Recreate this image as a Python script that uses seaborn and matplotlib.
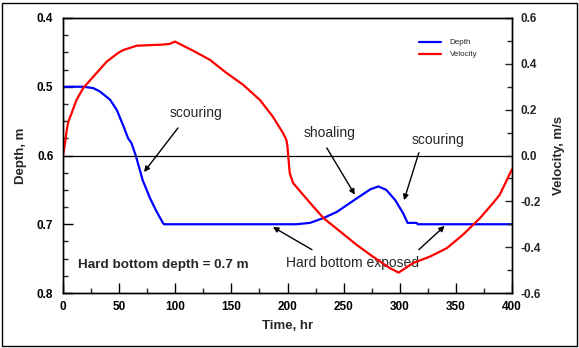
import matplotlib
matplotlib.use("Agg")
import matplotlib.pyplot as plt
from matplotlib.ticker import MultipleLocator
from matplotlib.patches import Rectangle
import seaborn as sns
import pandas as pd

# ---------------- data ----------------
depth_time = [0, 18, 27, 33, 42, 48, 54, 58, 61, 65, 71, 77.5, 83.5, 89, 90, 170, 208, 220,
              232, 244, 262, 274, 281, 288, 296, 303, 307, 315, 316, 400]
depth_m = [0.5, 0.5, 0.502, 0.507, 0.519, 0.534, 0.558, 0.575, 0.582, 0.601, 0.636, 0.662,
           0.682, 0.698, 0.7, 0.7, 0.7, 0.698, 0.691, 0.682, 0.662, 0.649, 0.645, 0.65, 0.665,
           0.684, 0.698, 0.698, 0.7, 0.7]

vel_time = [0, 1.8, 3.3, 4.7, 7.7, 12, 18, 27, 39, 49, 53.6, 65.6, 89, 95, 99.8, 116, 131, 146,
            160.6, 175.5, 187, 196, 199, 200, 200.7, 202, 205, 214, 223, 232, 247, 261.6, 276,
            291, 299, 312, 327, 342, 356, 371.5, 383, 389, 400]
vel_ms = [0.0, 0.054, 0.11, 0.147, 0.185, 0.242, 0.294, 0.344, 0.41, 0.447, 0.46, 0.479, 0.484,
          0.487, 0.497, 0.457, 0.417, 0.359, 0.308, 0.242, 0.169, 0.098, 0.068, 0.038, -0.005,
          -0.077, -0.12, -0.172, -0.223, -0.273, -0.332, -0.39, -0.441, -0.491, -0.511, -0.469,
          -0.441, -0.404, -0.347, -0.273, -0.208, -0.172, -0.06]

series_names = ["Depth", "Velocity"]
x_label = "Time, hr"
y1_label = "Depth, m"
y2_label = "Velocity, m/s"

depth_df = pd.DataFrame({"t": depth_time, "v": depth_m})
vel_df = pd.DataFrame({"t": vel_time, "v": vel_ms})

# ---------------- style ----------------
sns.set_style("ticks")
plt.rcParams["font.family"] = ["Liberation Sans", "DejaVu Sans"]

W, H = 579, 348
fig = plt.figure(figsize=(W / 100, H / 100), dpi=100)
fig.subplots_adjust(left=63 / W, right=512 / W, top=1 - 18 / H, bottom=1 - 293 / H)
ax1 = fig.add_subplot(111)
ax2 = ax1.twinx()

# frame around the figure
fig.patches.append(Rectangle((1.5 / W, 2.5 / H), 575 / W, 343 / H, transform=fig.transFigure,
                             fill=False, edgecolor="black", lw=1.0))

sns.lineplot(data=depth_df, x="t", y="v", ax=ax1, color="#0000ff", lw=1.6,
             sort=False, estimator=None, label=series_names[0], legend=False)
sns.lineplot(data=vel_df, x="t", y="v", ax=ax2, color="#ff0000", lw=1.6,
             sort=False, estimator=None, label=series_names[1], legend=False)

ax2.axhline(0.0, color="black", lw=0.9, zorder=0)

ax1.set_xlim(0, 400)
ax1.set_ylim(0.8, 0.4)
ax2.set_ylim(-0.6, 0.6)

ax1.xaxis.set_major_locator(MultipleLocator(50))
ax1.xaxis.set_minor_locator(MultipleLocator(25))
ax1.yaxis.set_major_locator(MultipleLocator(0.1))
ax1.yaxis.set_minor_locator(MultipleLocator(0.025))
ax2.yaxis.set_major_locator(MultipleLocator(0.2))
ax2.yaxis.set_minor_locator(MultipleLocator(0.1))

ax1.xaxis.set_major_formatter(plt.FuncFormatter(lambda v, p: f"{v:.0f}"))
ax1.yaxis.set_major_formatter(plt.FuncFormatter(lambda v, p: f"{v:.1f}"))
ax2.yaxis.set_major_formatter(plt.FuncFormatter(lambda v, p: f"{v:.1f}"))

for ax in (ax1, ax2):
    for s in ax.spines.values():
        s.set_visible(True)
        s.set_linewidth(1.0)
        s.set_color("black")

ax1.tick_params(axis="both", which="major", direction="in", length=7, width=1,
                labelsize=8.5, pad=7, colors="black")
ax1.tick_params(axis="both", which="minor", direction="in", length=3.5, width=1)
ax1.tick_params(axis="x", pad=6)
ax2.tick_params(axis="y", which="major", direction="in", length=5, width=1,
                labelsize=8.5, pad=6)
ax2.tick_params(axis="y", which="minor", direction="in", length=3.5, width=1)

for lab in ax1.get_xticklabels() + ax1.get_yticklabels() + ax2.get_yticklabels():
    lab.set_fontweight("bold")

ax1.set_xlabel(x_label, fontsize=9.5, fontweight="bold", labelpad=5)
ax1.set_ylabel(y1_label, fontsize=9.5, fontweight="bold", labelpad=7)
ax2.set_ylabel(y2_label, fontsize=9.5, fontweight="bold", labelpad=9)

# legend
h1, l1 = ax1.get_legend_handles_labels()
h2, l2 = ax2.get_legend_handles_labels()
ax1.legend(h1 + h2, l1 + l2, loc="upper left", bbox_to_anchor=(0.78, 0.945),
           frameon=False, fontsize=5.8, handlelength=2.8, handletextpad=1.0,
           labelspacing=0.55, borderpad=0.2)

# annotations (depth-axis data coordinates)
arrow = dict(arrowstyle="-|>", color="black", lw=1.0, mutation_scale=8, shrinkA=0, shrinkB=0)
ax1.text(118.5, 0.538, "scouring", fontsize=10, ha="center", va="center")
ax1.annotate("", xy=(72.2, 0.624), xytext=(102.4, 0.560), arrowprops=arrow)
ax1.text(237.9, 0.567, "shoaling", fontsize=10, ha="center", va="center")
ax1.annotate("", xy=(260, 0.657), xytext=(235, 0.589), arrowprops=arrow)
ax1.text(334, 0.577, "scouring", fontsize=10, ha="center", va="center")
ax1.annotate("", xy=(303.8, 0.665), xytext=(317, 0.596), arrowprops=arrow)
ax1.text(258, 0.756, "Hard bottom exposed", fontsize=10, ha="center", va="center")
ax1.annotate("", xy=(187, 0.704), xytext=(221.8, 0.737), arrowprops=arrow)
ax1.annotate("", xy=(340, 0.7025), xytext=(317, 0.737), arrowprops=arrow)
ax1.text(13.4, 0.759, "Hard bottom depth = 0.7 m", fontsize=9.7, fontweight="bold",
         ha="left", va="center")

fig.savefig("out.png", dpi=100)
